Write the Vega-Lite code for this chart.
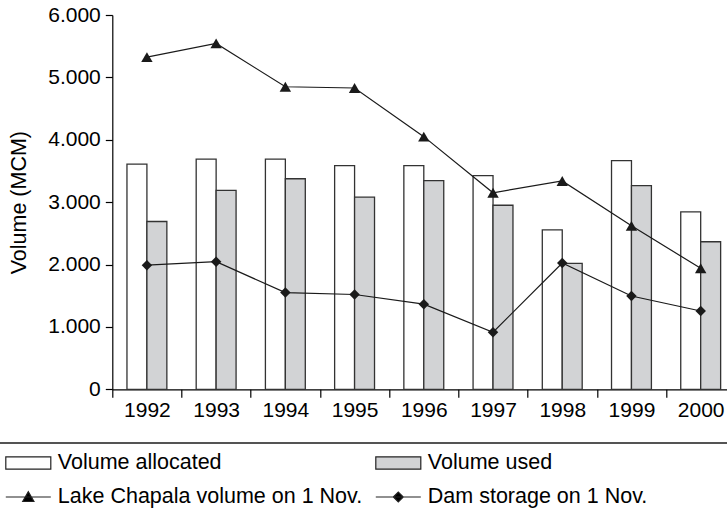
{
  "$schema": "https://vega.github.io/schema/vega-lite/v6.json",
  "width": 614.7,
  "height": 374.3,
  "autosize": {"type": "none"},
  "padding": {"left": 112.3, "top": 15, "right": 0, "bottom": 123.7},
  "background": "white",
  "config": {
    "view": {"stroke": null},
    "font": "Liberation Sans",
    "axis": {"labelFont": "Liberation Sans", "titleFont": "Liberation Sans", "labelColor": "black", "titleColor": "black", "domainColor": "black", "tickColor": "black"},
    "legend": {"labelFont": "Liberation Sans"}
  },
  "data": {
    "values": [
      {"year": "1992", "series": "Volume allocated", "value": 3610},
      {"year": "1993", "series": "Volume allocated", "value": 3690},
      {"year": "1994", "series": "Volume allocated", "value": 3690},
      {"year": "1995", "series": "Volume allocated", "value": 3585},
      {"year": "1996", "series": "Volume allocated", "value": 3585},
      {"year": "1997", "series": "Volume allocated", "value": 3425},
      {"year": "1998", "series": "Volume allocated", "value": 2555},
      {"year": "1999", "series": "Volume allocated", "value": 3665},
      {"year": "2000", "series": "Volume allocated", "value": 2845},
      {"year": "1992", "series": "Volume used", "value": 2690},
      {"year": "1993", "series": "Volume used", "value": 3190},
      {"year": "1994", "series": "Volume used", "value": 3375},
      {"year": "1995", "series": "Volume used", "value": 3080},
      {"year": "1996", "series": "Volume used", "value": 3345},
      {"year": "1997", "series": "Volume used", "value": 2950},
      {"year": "1998", "series": "Volume used", "value": 2020},
      {"year": "1999", "series": "Volume used", "value": 3265},
      {"year": "2000", "series": "Volume used", "value": 2365},
      {"year": "1992", "series": "Lake Chapala volume on 1 Nov.", "value": 5325},
      {"year": "1993", "series": "Lake Chapala volume on 1 Nov.", "value": 5545},
      {"year": "1994", "series": "Lake Chapala volume on 1 Nov.", "value": 4850},
      {"year": "1995", "series": "Lake Chapala volume on 1 Nov.", "value": 4830},
      {"year": "1996", "series": "Lake Chapala volume on 1 Nov.", "value": 4050},
      {"year": "1997", "series": "Lake Chapala volume on 1 Nov.", "value": 3150},
      {"year": "1998", "series": "Lake Chapala volume on 1 Nov.", "value": 3340},
      {"year": "1999", "series": "Lake Chapala volume on 1 Nov.", "value": 2620},
      {"year": "2000", "series": "Lake Chapala volume on 1 Nov.", "value": 1940},
      {"year": "1992", "series": "Dam storage on 1 Nov.", "value": 1990},
      {"year": "1993", "series": "Dam storage on 1 Nov.", "value": 2045},
      {"year": "1994", "series": "Dam storage on 1 Nov.", "value": 1550},
      {"year": "1995", "series": "Dam storage on 1 Nov.", "value": 1520},
      {"year": "1996", "series": "Dam storage on 1 Nov.", "value": 1365},
      {"year": "1997", "series": "Dam storage on 1 Nov.", "value": 915},
      {"year": "1998", "series": "Dam storage on 1 Nov.", "value": 2025},
      {"year": "1999", "series": "Dam storage on 1 Nov.", "value": 1495},
      {"year": "2000", "series": "Dam storage on 1 Nov.", "value": 1255}
    ]
  },
  "resolve": {"scale": {"x": "independent"}},
  "layer": [
    {
      "encoding": {
        "x": {
          "field": "year", "type": "nominal",
          "scale": {"range": [0, 623], "paddingInner": 0, "paddingOuter": 0},
          "axis": {"title": null, "labelAngle": 0, "tickBand": "extent", "tickSize": 8, "tickWidth": 1.2, "domainWidth": 1.2, "labelPadding": 2, "labelFontSize": 21}
        },
        "y": {
          "field": "value", "type": "quantitative",
          "scale": {"domain": [0, 6000], "nice": false},
          "axis": {
            "title": "Volume (MCM)", "titleFontSize": 21.5, "titleFontWeight": "normal", "titlePadding": 17,
            "values": [0, 1000, 2000, 3000, 4000, 5000, 6000],
            "labelExpr": "replace(format(datum.value, ','), ',', '.')",
            "labelFontSize": 21, "tickSize": 7, "tickWidth": 1.2, "domainWidth": 1.2, "labelPadding": 5, "grid": false
          }
        }
      },
      "layer": [
        {
          "transform": [{"filter": {"field": "series", "oneOf": ["Volume allocated", "Volume used"]}}],
          "mark": {"type": "bar", "stroke": "#333333", "strokeWidth": 1.3},
          "encoding": {
            "xOffset": {"field": "series", "type": "nominal", "scale": {"domain": ["Volume allocated", "Volume used"], "paddingInner": 0, "paddingOuter": 0.735}},
            "fill": {
              "field": "series", "type": "nominal",
              "scale": {"domain": ["Volume allocated", "Volume used", "Lake Chapala volume on 1 Nov.", "Dam storage on 1 Nov."], "range": ["white", "#d2d3d5", "black", "black"]},
              "legend": {"title": null, "orient": "none", "direction": "horizontal", "legendX": -107.5, "legendY": 424.5, "columns": 2, "columnPadding": 10, "rowPadding": -11, "padding": 0, "labelFontSize": 21.5, "labelColor": "black", "labelLimit": 400, "labelOffset": 6, "symbolSize": 2025, "symbolStrokeColor": "black", "symbolStrokeWidth": 1,
                "encode": {"symbols": {"update": {"stroke": {"value": "#222222"}, "strokeWidth": {"value": 1.2}, "opacity": {"value": 1}}}}}
            }
          }
        },
        {
          "transform": [{"filter": {"field": "series", "oneOf": ["Lake Chapala volume on 1 Nov.", "Dam storage on 1 Nov."]}}],
          "mark": {"type": "line", "color": "#1a1a1a", "strokeWidth": 1.2},
          "encoding": {"detail": {"field": "series", "type": "nominal"}}
        },
        {
          "transform": [{"filter": {"field": "series", "equal": "Lake Chapala volume on 1 Nov."}}],
          "mark": {"type": "point", "shape": "triangle-up", "filled": true, "color": "#1a1a1a", "size": 130, "opacity": 1},
          "encoding": {}
        },
        {
          "transform": [{"filter": {"field": "series", "equal": "Dam storage on 1 Nov."}}],
          "mark": {"type": "point", "shape": "diamond", "filled": true, "color": "#1a1a1a", "size": 110, "opacity": 1},
          "encoding": {}
        },
        {
          "transform": [{"filter": {"field": "value", "lt": 0}}],
          "mark": {"type": "point", "filled": true},
          "encoding": {
            "shape": {
              "field": "series", "type": "nominal",
              "scale": {"domain": ["Volume allocated", "Volume used", "Lake Chapala volume on 1 Nov.", "Dam storage on 1 Nov."], "range": ["M-1,-0.27H1V0.27H-1Z", "M-1,-0.27H1V0.27H-1Z", "M-1,0H1M-0.25,0.2L0,-0.24L0.25,0.2Z", "M-1,0H1M-0.22,0L0,-0.22L0.22,0L0,0.22Z"]},
              "legend": {"title": null, "orient": "none", "direction": "horizontal", "legendX": -107.5, "legendY": 424.5, "columns": 2, "columnPadding": 10, "rowPadding": -11, "padding": 0, "labelFontSize": 21.5, "labelColor": "black", "labelLimit": 400, "labelOffset": 6, "symbolSize": 2025, "symbolStrokeColor": "black", "symbolStrokeWidth": 1,
                "encode": {"symbols": {"update": {"stroke": {"value": "#222222"}, "strokeWidth": {"value": 1.2}, "opacity": {"value": 1}}}}}
            },
            "fill": {"field": "series", "type": "nominal"}
          }
        }
      ]
    },
    {
      "mark": {"type": "rule", "color": "#555555", "strokeWidth": 1.6, "clip": false},
      "encoding": {
        "x": {"datum": 0, "type": "quantitative", "scale": {"domain": [0, 1], "range": [-112.3, 614.7], "nice": false, "zero": false}, "axis": null},
        "x2": {"datum": 1},
        "y": {"datum": -860, "type": "quantitative"}
      }
    }
  ]
}
